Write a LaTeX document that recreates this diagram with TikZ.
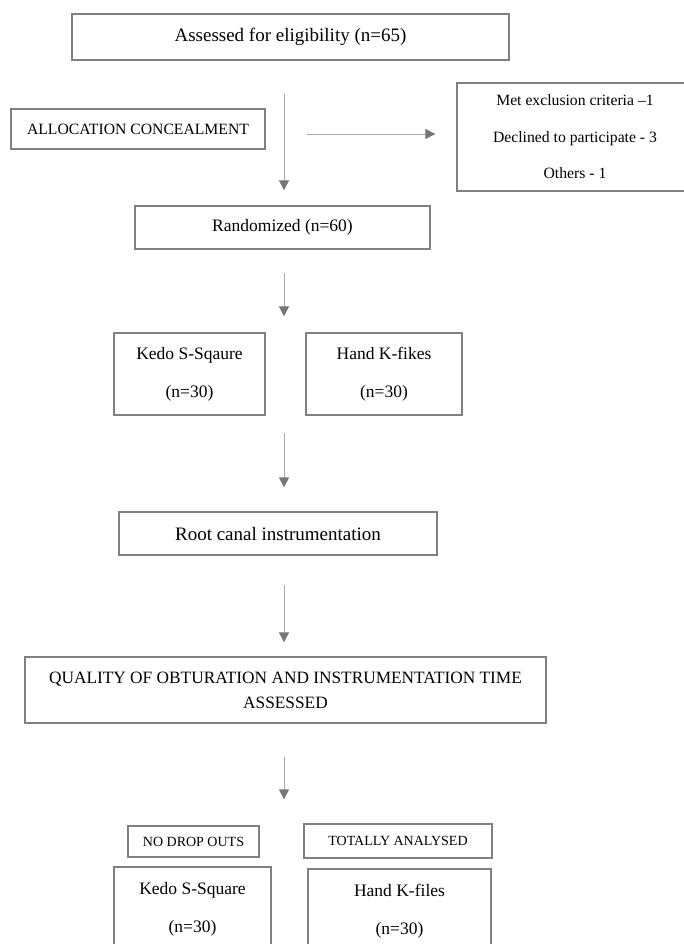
\documentclass[tikz,border=0pt]{standalone}
\usepackage{fontspec}
\setmainfont{Liberation Serif}
\usetikzlibrary{arrows.meta,calc}
\definecolor{boxgray}{HTML}{808080}
\definecolor{linegray}{HTML}{A8A8A8}
\definecolor{tipgray}{HTML}{777777}
\newcommand{\setfs}[2]{\fontsize{#1}{#2}\selectfont}
\tikzstyle{box} = [draw=boxgray, line width=1.3pt, inner sep=0pt, align=center, anchor=center]
\tikzstyle{flow} = [draw=linegray, line width=0.9pt, -{Triangle[width=10pt,length=10pt,color=tipgray]}]

\begin{document}
\begin{tikzpicture}[x=1pt, y=-1pt]
  \useasboundingbox (0,0) rectangle (684,944);
  \coordinate (spine) at (284,0);

  \node[at={(290.5,37)}, box, minimum width=437pt, minimum height=46pt, font=\setfs{19}{23}] (elig) {Assessed for eligibility (n=65)};
  \node[at={(138,129)}, box, minimum width=254pt, minimum height=40pt, font=\setfs{15.7}{19}] (alloc) {ALLOCATION CONCEALMENT};
  \node[at={(575,137)}, box, minimum width=236pt, minimum height=108pt, font=\setfs{15.7}{36.5}] (excl) {Met exclusion criteria --1\\Declined to participate - 3\\Others - 1};
  \node[at={(282.5,227.5)}, box, minimum width=295pt, minimum height=43pt, font=\setfs{17.5}{21}] (rand) {Randomized (n=60)};

  \node[at={(189.5,374)}, box, minimum width=151pt, minimum height=82pt, font=\setfs{17.5}{38}] (kedoA) {Kedo S-Sqaure\\(n=30)};
  \node[at={(384,374)}, box, minimum width=156pt, minimum height=82pt, font=\setfs{17.5}{38}] (handA) {Hand K-fikes\\(n=30)};

  \node[at={(278,533.5)}, box, minimum width=318pt, minimum height=43pt, font=\setfs{19}{23}] (root) {Root canal instrumentation};
  \node[at={(285.5,690)}, box, minimum width=521pt, minimum height=66pt, font=\setfs{17.3}{25}] (quality) {QUALITY OF OBTURATION AND INSTRUMENTATION TIME\\ASSESSED};

  \node[at={(193.5,841.5)}, box, minimum width=131pt, minimum height=31pt, font=\setfs{14}{17}] (nodrop) {NO DROP OUTS};
  \node[at={(398,841)}, box, minimum width=188pt, minimum height=34pt, font=\setfs{14}{17}] (total) {TOTALLY ANALYSED};
  \node[at={(192.5,909)}, box, minimum width=157pt, minimum height=84pt, font=\setfs{17.5}{38}] (kedoB) {Kedo S-Square\\(n=30)};
  \node[at={(399.5,911)}, box, minimum width=183pt, minimum height=84pt, font=\setfs{17.5}{38}] (handB) {Hand K-files\\(n=30)};

  % arrows
  \draw[flow, shorten <=33pt, shorten >=15pt] (spine |- elig.south) -- (spine |- rand.north);
  \draw[flow, shorten <=41pt, shorten >=21pt] ([yshift=-5pt]alloc.east) -- ([yshift=-5pt]alloc.east -| excl.west);
  \draw[flow, shorten <=23pt, shorten >=16pt] (spine |- rand.south) -- (spine |- kedoA.north);
  \draw[flow, shorten <=17pt, shorten >=24pt] (spine |- kedoA.south) -- (spine |- root.north);
  \draw[flow, shorten <=29pt, shorten >=14pt] (spine |- root.south) -- (spine |- quality.north);
  \draw[flow, shorten <=33pt, shorten >=26pt] (spine |- quality.south) -- (spine |- nodrop.north);

\end{tikzpicture}
\end{document}
